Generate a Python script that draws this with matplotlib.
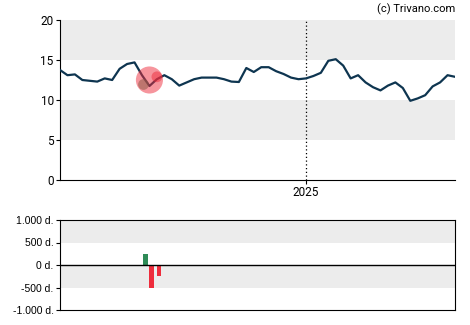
import numpy as np
import pandas as pd
import matplotlib
matplotlib.use("Agg")
import matplotlib.pyplot as plt

# weekly values
start = "2024-05-15"
values = [13.75, 13.1, 13.2, 12.5, 12.4, 12.3, 12.7, 12.5, 13.9, 14.5,
          14.7, 13.1, 11.75, 12.6, 13.1, 12.6, 11.8, 12.2, 12.6, 12.8,
          12.8, 12.8, 12.6, 12.3, 12.25, 14.0, 13.5, 14.1, 14.1, 13.6,
          13.25, 12.8, 12.6, 12.7, 13.0, 13.4, 14.9, 15.1, 14.3, 12.7,
          13.1, 12.2, 11.6, 11.2, 11.8, 12.2, 11.5, 9.9, 10.2, 10.6,
          11.7, 12.2, 13.1, 12.9]
dates = pd.date_range(start, periods=len(values), freq="7D")

# insider trades (circles on price chart)
buy_dates = ["2024-08-01"]
buy_prices = [12.0]
buy_sizes = [60]
sell_dates = ["2024-08-07", "2024-08-14"]
sell_prices = [12.5, 12.9]
sell_sizes = [380, 60]

# net volume bars
bar_dates = ["2024-08-03", "2024-08-09", "2024-08-16"]
bar_values = [250, -500, -240]

green = "#2e8b57"
red = "#ee2c3c"
navy = "#0e3550"

fig = plt.figure(figsize=(4.7, 3.25), dpi=100)
ax = fig.add_axes([60/470, 145/325, 395/470, 160/325])
ax2 = fig.add_axes([60/470, 15/325, 395/470, 90/325])

x0 = dates[0]
x1 = dates[-1]

for a in (ax, ax2):
    a.set_xlim(x0, x1)

# top chart
ax.axhspan(15, 20, color="#ececec", lw=0, zorder=0)
ax.axhspan(5, 10, color="#ececec", lw=0, zorder=0)
ax.plot(dates, values, color=navy, lw=1.6, zorder=3)
ax.scatter(pd.to_datetime(buy_dates), buy_prices, s=buy_sizes, color=green,
           alpha=0.55, lw=0, zorder=4)
ax.scatter(pd.to_datetime(sell_dates), sell_prices, s=sell_sizes, color=red,
           alpha=0.5, lw=0, zorder=4)
ax.axvline(pd.Timestamp("2025-01-01"), color="black", lw=0.9, ls=(0, (1, 2)),
           zorder=2)
ax.set_ylim(0, 20)
ax.set_yticks([0, 5, 10, 15, 20])
ax.set_xticks([pd.Timestamp("2025-01-01")])
ax.set_xticklabels(["2025"])
for s in ("top", "right"):
    ax.spines[s].set_visible(False)
ax.tick_params(labelsize=8.5, length=3, width=0.8, pad=1.5)
for lab in ax.get_xticklabels() + ax.get_yticklabels():
    lab.set_fontfamily("Roboto")

# bottom chart
ax2.axhspan(500, 1000, color="#ececec", lw=0, zorder=0)
ax2.axhspan(-500, 0, color="#ececec", lw=0, zorder=0)
bar_colors = [green if v > 0 else red for v in bar_values]
ax2.bar(pd.to_datetime(bar_dates), bar_values, width=4.5, color=bar_colors,
        zorder=3)
ax2.axhline(0, color="black", lw=1, zorder=4)
ax2.set_ylim(-1000, 1000)
ax2.set_yticks([-1000, -500, 0, 500, 1000])
ax2.set_yticklabels(["-1.000 d.", "-500 d.", "0 d.", "500 d.", "1.000 d."])
ax2.set_xticks([])
ax2.tick_params(labelsize=7.5, length=3, width=0.8, pad=1.5)
for lab in ax2.get_yticklabels():
    lab.set_fontfamily("Liberation Sans")

fig.text(455/470, 1 - 9/325, "(c) Trivano.com", ha="right", va="center",
         fontsize=8, family="Roboto")

fig.savefig("out.png", dpi=100)
